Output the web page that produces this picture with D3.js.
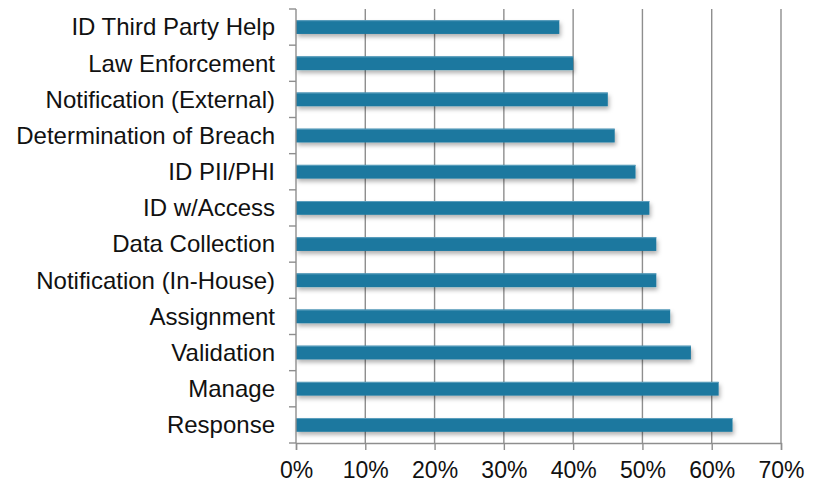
<!DOCTYPE html>
<html>
<head>
<meta charset="utf-8">
<script src="https://cdn.jsdelivr.net/npm/d3@7"></script>
<style>
  html, body { margin: 0; padding: 0; background: #fff; }
  svg { display: block; font-family: "Liberation Sans", Arial, Helvetica, sans-serif; }
</style>
</head>
<body>
<svg id="chart" width="822" height="482"></svg>
<script>
// Incident response activities, share of respondents
const categories = [
  "ID Third Party Help",
  "Law Enforcement",
  "Notification (External)",
  "Determination of Breach",
  "ID PII/PHI",
  "ID w/Access",
  "Data Collection",
  "Notification (In-House)",
  "Assignment",
  "Validation",
  "Manage",
  "Response"
];
const values = [0.38, 0.40, 0.45, 0.46, 0.49, 0.51, 0.52, 0.52, 0.54, 0.57, 0.61, 0.63];
const xTicks = [0, 0.1, 0.2, 0.3, 0.4, 0.5, 0.6, 0.7];

const svg = d3.select("#chart");
const plotLeft = 296, plotRight = 781, plotTop = 9, plotBottom = 443;
const gridColor = "#8e8e8e";
const barColor = "#1d789f";

const x = d3.scaleLinear().domain([0, 0.7]).range([plotLeft, plotRight]);
const y = d3.scaleBand().domain(categories).range([plotTop, plotBottom])
  .paddingInner(0.62).paddingOuter(0.31);

// soft shadow under each bar
const defs = svg.append("defs");
const f = defs.append("filter").attr("id", "shadow")
  .attr("x", "-5%").attr("y", "-50%").attr("width", "115%").attr("height", "250%");
f.append("feDropShadow").attr("dx", 1.5).attr("dy", 3).attr("stdDeviation", 2)
  .attr("flood-color", "#000").attr("flood-opacity", 0.3);

// vertical gridlines
svg.append("g").selectAll("line").data(xTicks.slice(1)).join("line")
  .attr("x1", d => x(d)).attr("x2", d => x(d))
  .attr("y1", plotTop).attr("y2", plotBottom)
  .attr("stroke", gridColor).attr("stroke-width", 1.4);

// bars
svg.append("g").selectAll("rect").data(categories).join("rect")
  .attr("x", x(0))
  .attr("y", d => y(d))
  .attr("width", (d, i) => x(values[i]) - x(0))
  .attr("height", y.bandwidth())
  .attr("fill", barColor)
  .attr("filter", "url(#shadow)");

// thin highlight on bar tops
svg.append("g").selectAll("line").data(categories).join("line")
  .attr("x1", x(0)).attr("x2", (d, i) => x(values[i]))
  .attr("y1", d => y(d) + 0.5).attr("y2", d => y(d) + 0.5)
  .attr("stroke", "#5d9fbe").attr("stroke-width", 1);

// x axis
const xAxis = svg.append("g").attr("transform", `translate(0,${plotBottom})`)
  .call(d3.axisBottom(x).tickValues(xTicks).tickFormat(d3.format(".0%")).tickSize(7).tickPadding(12));
xAxis.select(".domain").attr("stroke", gridColor).attr("stroke-width", 1.4);
xAxis.selectAll(".tick line").attr("stroke", gridColor).attr("stroke-width", 1.4);
xAxis.selectAll(".tick text").attr("font-size", 23).attr("fill", "#111")
  .attr("font-family", "Liberation Sans, Arial, sans-serif");

// y axis: ticks at band boundaries, labels at band centres
const yAxis = svg.append("g");
yAxis.append("line").attr("x1", plotLeft).attr("x2", plotLeft).attr("y1", plotTop).attr("y2", plotBottom)
  .attr("stroke", gridColor).attr("stroke-width", 1.4);
const bounds = d3.range(categories.length + 1).map(i => plotTop + i * y.step());
yAxis.selectAll("line.tick").data(bounds).join("line").attr("class", "tick")
  .attr("x1", plotLeft - 7).attr("x2", plotLeft).attr("y1", d => d).attr("y2", d => d)
  .attr("stroke", gridColor).attr("stroke-width", 1.4);
yAxis.selectAll("text").data(categories).join("text")
  .attr("x", plotLeft - 21)
  .attr("y", d => y(d) + y.bandwidth() / 2)
  .attr("dy", "0.35em")
  .attr("text-anchor", "end")
  .attr("font-size", 24)
  .attr("fill", "#111")
  .text(d => d);
</script>
</body>
</html>
